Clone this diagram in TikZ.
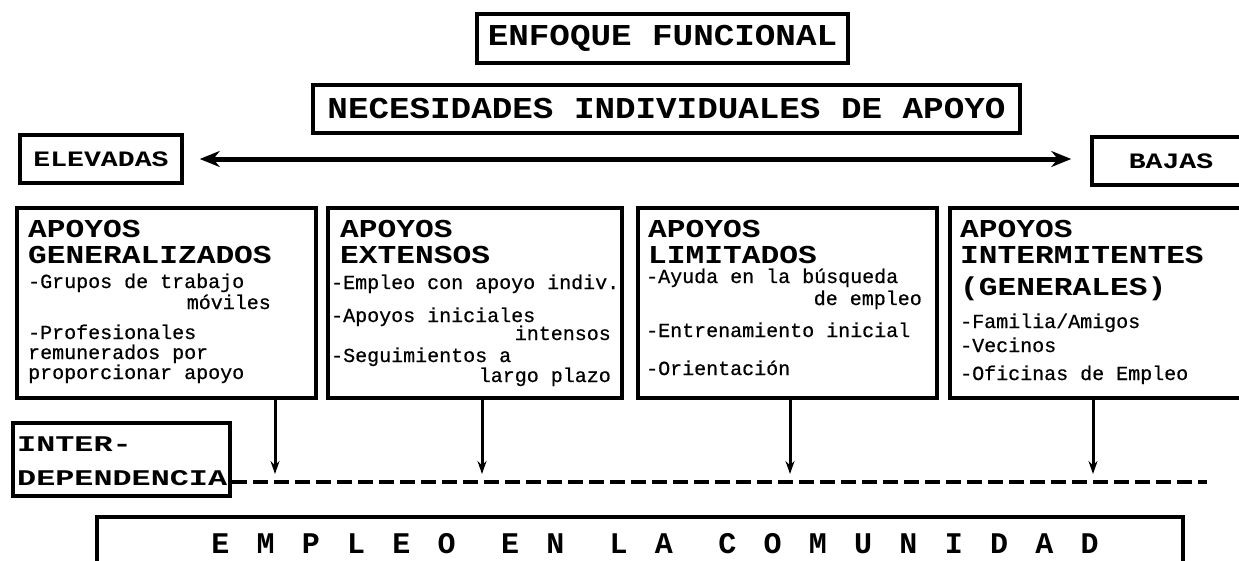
\documentclass[tikz,border=0pt]{standalone}
\usepackage{fontspec}
\usetikzlibrary{arrows.meta}
\newfontfamily\monoT{Liberation Mono}[FakeStretch=1.13]
\newfontfamily\monoSide{Liberation Mono}[FakeStretch=1.28]
\newfontfamily\monoH{Liberation Mono}[FakeStretch=1.21]
\newfontfamily\monoI{Liberation Mono}[FakeStretch=1.42]
\newfontfamily\monoB{Liberation Mono}[FakeBold=0.6]
\newfontfamily\monoS{Liberation Mono}[LetterSpace=91]
\newcommand{\titlefont}{\monoT\bfseries\fontsize{30.3}{30}\selectfont}
\newcommand{\sidefont}{\monoSide\bfseries\fontsize{22}{22}\selectfont}
\newcommand{\headfont}{\monoH\bfseries\fontsize{25.8}{26}\selectfont}
\newcommand{\interfont}{\monoI\bfseries\fontsize{22.4}{22}\selectfont}
\newcommand{\bodyfont}{\monoB\fontsize{20}{20}\selectfont}
\newcommand{\spacedfont}{\monoS\bfseries\fontsize{30}{30}\selectfont}
\tikzset{
  box/.style={draw, line width=3.5pt, inner sep=0pt, rectangle},
  hd/.style={font=\headfont, anchor=base west, inner sep=0pt},
  bt/.style={font=\bodyfont, anchor=base west, inner sep=0pt},
  btr/.style={font=\bodyfont, anchor=base east, inner sep=0pt},
  arr/.style={line width=3pt, -{Stealth[length=13pt,width=9pt]}},
  dashl/.style={line width=4pt, dash pattern=on 15pt off 6pt},
  dbl/.style={line width=5pt, {Stealth[length=20pt,width=16pt]}-{Stealth[length=20pt,width=16pt]}},
}
\begin{document}
\begin{tikzpicture}[x=1pt,y=-1pt]
\clip (0,0) rectangle (1239,560);
\fill[white] (0,0) rectangle (1239,560);

% titles
\node[box, minimum width=371pt, minimum height=49pt, font=\titlefont] (enf) at (662.5,38.5) {ENFOQUE FUNCIONAL};
\node[box, minimum width=707pt, minimum height=48pt, font=\titlefont] (nec) at (666.5,109) {NECESIDADES INDIVIDUALES DE APOYO};

% side boxes
\node[box, minimum width=162pt, minimum height=48pt, font=\sidefont] (elev) at (101,159) {ELEVADAS};
\node[box, minimum width=158pt, minimum height=48pt, font=\sidefont] (baj) at (1171,161) {BAJAS};
\draw[dbl, shorten <=16pt, shorten >=19pt] (elev.east) -- (elev.east -| baj.west);

% four support boxes
\node[box, minimum width=299pt, minimum height=190pt] (b1) at (166.5,303) {};
\node[box, minimum width=294pt, minimum height=190pt] (b2) at (475,303) {};
\node[box, minimum width=299pt, minimum height=190pt] (b3) at (787.5,303) {};
\node[box, minimum width=300pt, minimum height=190pt] (b4) at (1100,303) {};

% box 1 text
\node[hd] (b1a) at (28,237) {APOYOS};
\node[hd] (b1b) at (28,263) {GENERALIZADOS};
\node[bt] (b1c) at (28,288) {-Grupos de trabajo};
\node[btr] (b1d) at (271,309) {móviles};
\node[bt] (b1e) at (28,339) {-Profesionales};
\node[bt] (b1f) at (28,359) {remunerados por};
\node[bt] (b1g) at (28,379) {proporcionar apoyo};

% box 2 text
\node[hd] (b2a) at (340,237) {APOYOS};
\node[hd] (b2b) at (340,263) {EXTENSOS};
\node[bt] (b2c) at (331,289) {-Empleo con apoyo indiv.};
\node[bt] (b2d) at (331,322) {-Apoyos iniciales};
\node[btr] (b2e) at (611,340) {intensos};
\node[bt] (b2f) at (331,362) {-Seguimientos a};
\node[btr] (b2g) at (611,382) {largo plazo};

% box 3 text
\node[hd] (b3a) at (648,237) {APOYOS};
\node[hd] (b3b) at (648,263) {LIMITADOS};
\node[bt] (b3c) at (646,283) {-Ayuda en la búsqueda};
\node[btr] (b3d) at (922,305) {de empleo};
\node[bt] (b3e) at (646,337) {-Entrenamiento inicial};
\node[bt] (b3f) at (646,375) {-Orientación};

% box 4 text
\node[hd] (b4a) at (960,237) {APOYOS};
\node[hd] (b4b) at (960,263) {INTERMITENTES};
\node[hd] (b4c) at (960,295) {(GENERALES)};
\node[bt] (b4d) at (960,328) {-Familia/Amigos};
\node[bt] (b4e) at (960,352) {-Vecinos};
\node[bt] (b4f) at (960,380) {-Oficinas de Empleo};

% interdependencia
\node[box, minimum width=217pt, minimum height=73pt] (inter) at (121.5,459.5) {};
\node[font=\interfont, anchor=base west, inner sep=0pt] (int1) at (17,451) {INTER-};
\node[font=\interfont, anchor=base west, inner sep=0pt] (int2) at (17,485) {DEPENDENCIA};

\coordinate (dend) at (1207,482);
\draw[dashl] (inter.east |- dend) -- (dend);

\coordinate (t1) at (275,474);
\coordinate (t2) at (482,474);
\coordinate (t3) at (790,474);
\coordinate (t4) at (1093,474);
\draw[arr] (b1.south -| t1) -- (t1);
\draw[arr] (b2.south -| t2) -- (t2);
\draw[arr] (b3.south -| t3) -- (t3);
\draw[arr] (b4.south -| t4) -- (t4);

% empleo
\node[box, minimum width=1086pt, minimum height=70pt] (emp) at (640,552) {};
\node[font=\spacedfont, anchor=base, inner sep=0pt] (empt) at (655,553) {EMPLEO EN LA COMUNIDAD};
\end{tikzpicture}
\end{document}
